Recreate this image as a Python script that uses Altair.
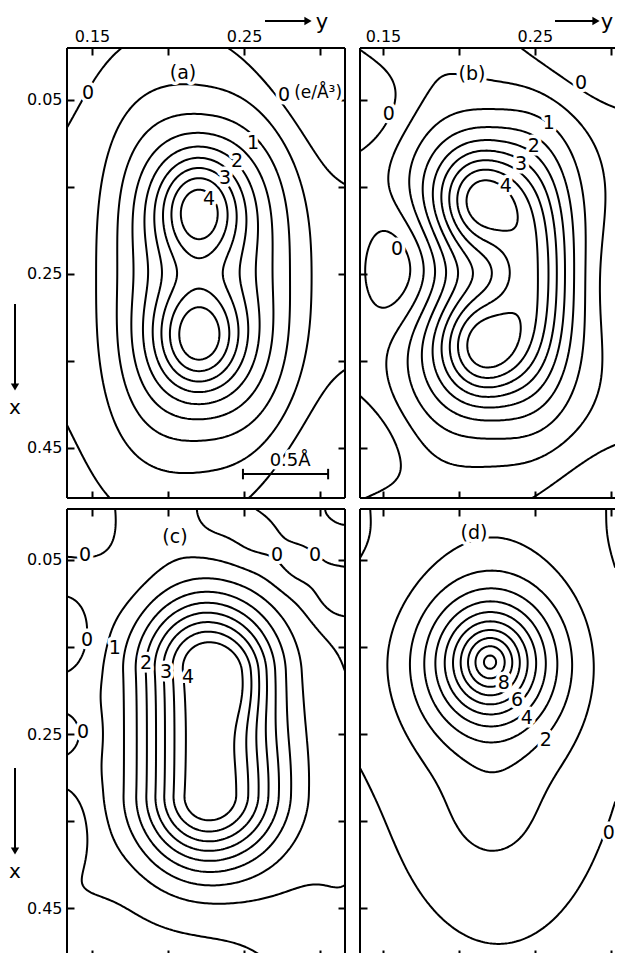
import numpy as np
import pandas as pd
import altair as alt

# ---------------- contour levels (e/A^3) ----------------
LEVELS_ABC = [0.0, 0.5, 1.0, 1.5, 2.0, 2.5, 3.0, 3.5, 4.0]
LEVELS_D = [0.0, 1.0, 2.0, 3.0, 4.0, 5.0, 6.0, 7.0, 8.0, 9.0, 10.0]

# ---------------- axes (fractional coordinates) ----------------
Y_TICKS = [0.15, 0.20, 0.25, 0.30]
X_TICKS = [0.05, 0.15, 0.25, 0.35, 0.45]
Y_DOM_L = [0.1336, 0.3164]
Y_DOM_R = [0.1349, 0.3027]
X_DOM_T = [-0.0092, 0.5080]
X_DOM_B = [-0.0086, 0.5063]

# ---------------- density components read from the maps ----------------
# centre y, centre x, height, width y, width x, flat half-length y/x, shape q, profile p
A_CY = [0.2237, 0.2204, 0.2204, 0.3099, 0.3099, 0.1257, 0.3230]
A_CX = [0.2560, 0.1759, 0.3241, -0.0115, 0.5115, 0.2506, 0.2506]
A_AMP = [2.4, 2.4, 2.4, -0.9, -0.7, 0.25, 0.3]
A_SY = [0.0500, 0.0191, 0.0197, 0.0362, 0.0362, 0.0164, 0.0164]
A_SX = [0.1630, 0.0437, 0.0437, 0.0805, 0.0805, 0.1264, 0.1264]
A_HY = [0] * 7
A_HX = [0] * 7
A_Q = [3, 2, 2, 2, 2, 2, 2]
A_P = [2.8, 2, 2, 2, 2, 2, 2]
A_BASE = -0.2

B_CY = [0.2211, 0.2151, 0.2164, 0.2480, 0.1638, 0.1276, 0.1309, 0.1309, 0.3217, 0.3316,
        0.3086, 0.3118, 0.1638, 0.1507]
B_CX = [0.2506, 0.1644, 0.3356, 0.2494, 0.2448, 0.2414, 0.0517, 0.4540, 0.2506, 0.2644,
        -0.0172, 0.5172, -0.0230, 0.5230]
B_AMP = [2.4, 2.4, 2.4, 1.5, -1.3, 0.8, -0.6, -0.6, 0.35, -0.9, -0.8, -0.6, 0.45, 0.4]
B_SY = [0.0526, 0.0197, 0.0197, 0.0158, 0.0263, 0.0145, 0.0230, 0.0230, 0.0230, 0.0230,
        0.0395, 0.0395, 0.0329, 0.0263]
B_SX = [0.1609, 0.0414, 0.0414, 0.0805, 0.0483, 0.0690, 0.0345, 0.0345, 0.2529, 0.0575,
        0.0460, 0.0460, 0.0345, 0.0230]
B_HY = [0] * 14
B_HX = [0] * 14
B_Q = [3] + [2] * 13
B_P = [2.8] + [2] * 13
B_BASE = -0.2

C_CY = [0.2243, 0.2474, 0.2572, 0.1289, 0.1303, 0.1303, 0.1303, 0.1342, 0.1342,
        0.1947, 0.3164, 0.2309, 0.2592, 0.2868, 0.3151, 0.3230, 0.2243, 0.2276, 0.2803]
C_CX = [0.2489, 0.1937, 0.3086, 0.2511, 0.1385, 0.2489, 0.3603, -0.0017, 0.5098,
        -0.0132, -0.0132, -0.0075, 0.0213, 0.0534, 0.0879, 0.3316, 0.1017, 0.4121, 0.2626]
C_AMP = [4.5, 0.6, 0.4, 0.6, -0.9, -0.7, -0.9, -0.8, -1.0,
         0.5, 0.48, -0.45, -0.45, -0.5, -0.7, 0.6, 0.5, 0.4, 0.5]
C_SY = [0.0316, 0.0145, 0.0197, 0.0230, 0.0132, 0.0118, 0.0132, 0.0197, 0.0197,
        0.0263, 0.0592, 0.0132, 0.0132, 0.0132, 0.0132, 0.0230, 0.0329, 0.0395, 0.0263]
C_SX = [0.0552, 0.0345, 0.0460, 0.3678, 0.0345, 0.0230, 0.0402, 0.0345, 0.0460,
        0.0460, 0.0460, 0.0230, 0.0230, 0.0230, 0.0230, 0.2299, 0.0460, 0.0460, 0.1724]
C_HY = [0] * 19
C_HX = [0.0713] + [0] * 18
C_Q = [2] * 19
C_P = [2] * 19
C_BASE = -0.2

D_CY = [0.2204, 0.2263, 0.2211, 0.2099, 0.1243]
D_CX = [0.1672, 0.2282, 0.3454, -0.0477, 0.1477]
D_AMP = [9.7, 1.5, 0.7, 0.5, 0.35]
D_SY = [0.0217, 0.0625, 0.0230, 0.0855, 0.0197]
D_SX = [0.0414, 0.2080, 0.0460, 0.0517, 0.0920]
D_HY = [0] * 5
D_HX = [0] * 5
D_Q = [2] * 5
D_P = [1.4, 2, 2, 2, 2]
D_BASE = -0.68

# ---------------- labels ----------------
A_LBL = ["0", "0", "(e/Å³)", "1", "2", "3", "4", "(a)", "0.5Å"]
A_LY = [0.1474, 0.2763, 0.2987, 0.2559, 0.2454, 0.2375, 0.2270, 0.2099, 0.2803]
A_LX = [0.0425, 0.0448, 0.0425, 0.1000, 0.1207, 0.1402, 0.1644, 0.0195, 0.4655]
A_FS = [19, 19, 17, 19, 19, 19, 19, 19, 18]

B_LBL = ["0", "0", "1", "2", "3", "4", "0", "(b)"]
B_LY = [0.1539, 0.2803, 0.2592, 0.2493, 0.2408, 0.2309, 0.1592, 0.2086]
B_LX = [0.0667, 0.0310, 0.0770, 0.1034, 0.1241, 0.1494, 0.2218, 0.0207]
B_FS = [19] * 8

C_LBL = ["(c)", "0", "0", "0", "0", "1", "2", "3", "4", "0"]
C_LY = [0.2046, 0.1454, 0.2717, 0.2967, 0.1467, 0.1651, 0.1855, 0.1987, 0.2132, 0.1441]
C_LX = [0.0236, 0.0443, 0.0443, 0.0443, 0.1420, 0.1511, 0.1684, 0.1787, 0.1845, 0.2477]
C_FS = [19] * 10

D_LBL = ["(d)", "8", "6", "4", "2", "0"]
D_LY = [0.2099, 0.2296, 0.2382, 0.2447, 0.2572, 0.2987]
D_LX = [0.0190, 0.1914, 0.2109, 0.2316, 0.2569, 0.3638]
D_FS = [19] * 6

SCALE_BAR_Y = [0.2493, 0.3053]
SCALE_BAR_X = [0.4805, 0.4805]


# ---------------- field + marching squares ----------------
def field(Yg, Xg, comp, base):
    f = np.full(Yg.shape, float(base))
    for cy, cx, amp, sy, sx, hy, hx, q, p in zip(*comp):
        dy = np.maximum(np.abs(Yg - cy) - hy, 0.0) / sy
        dx = np.maximum(np.abs(Xg - cx) - hx, 0.0) / sx
        r = (dy ** q + dx ** q) ** (1.0 / q)
        f = f + amp * np.exp(-0.5 * r ** p)
    return f


SEG = {1: [(3, 0)], 2: [(0, 1)], 3: [(3, 1)], 4: [(1, 2)], 6: [(0, 2)], 7: [(3, 2)],
       8: [(2, 3)], 9: [(0, 2)], 11: [(1, 2)], 12: [(1, 3)], 13: [(0, 1)], 14: [(3, 0)]}


def trace(Z, U, V, lev):
    nv, nu = Z.shape
    Bm = Z >= lev
    case = (Bm[:-1, :-1].astype(int) + 2 * Bm[:-1, 1:] + 4 * Bm[1:, 1:] + 8 * Bm[1:, :-1])
    cells = np.argwhere((case > 0) & (case < 15)).tolist()
    segs = []
    for i, j in cells:
        c = int(case[i, j])
        e = ((i * nu + j) * 2, (i * nu + j + 1) * 2 + 1, ((i + 1) * nu + j) * 2, (i * nu + j) * 2 + 1)
        if c in (5, 10):
            center = (Z[i, j] + Z[i, j + 1] + Z[i + 1, j + 1] + Z[i + 1, j]) / 4.0
            if (c == 5) == bool(center >= lev):
                pairs = [(0, 1), (2, 3)]
            else:
                pairs = [(3, 0), (1, 2)]
        else:
            pairs = SEG[c]
        for a, b in pairs:
            segs.append((e[a], e[b]))
    adj = {}
    for s, (a, b) in enumerate(segs):
        adj.setdefault(a, []).append(s)
        adj.setdefault(b, []).append(s)
    used = [False] * len(segs)

    def walk(cur):
        out = []
        while True:
            nxt = None
            for t in adj[cur]:
                if not used[t]:
                    nxt = t
                    break
            if nxt is None:
                return out
            used[nxt] = True
            a, b = segs[nxt]
            cur = b if a == cur else a
            out.append(cur)

    def pt(k):
        m, kind = divmod(k, 2)
        i, j = divmod(m, nu)
        if kind == 0:
            t = (lev - Z[i, j]) / (Z[i, j + 1] - Z[i, j])
            return U[j] + t * (U[j + 1] - U[j]), V[i]
        t = (lev - Z[i, j]) / (Z[i + 1, j] - Z[i, j])
        return U[j], V[i] + t * (V[i + 1] - V[i])

    paths = []
    for s in range(len(segs)):
        if used[s]:
            continue
        used[s] = True
        a, b = segs[s]
        fwd = walk(b)
        bwd = walk(a)
        keys = bwd[::-1] + [a, b] + fwd
        paths.append([pt(k) for k in keys])
    return paths


def contour_table(comp, base, levels, ydom, xdom, nu=140, nv=226):
    U = np.linspace(ydom[0], ydom[1], nu)
    V = np.linspace(xdom[0], xdom[1], nv)
    Yg, Xg = np.meshgrid(U, V)
    Z = field(Yg, Xg, comp, base)
    rows = []
    pid = 0
    for lev in levels:
        for path in trace(Z, U, V, lev):
            for k, (u, v) in enumerate(path):
                rows.append((pid, k, round(float(u), 5), round(float(v), 5), lev))
            pid += 1
    return pd.DataFrame(rows, columns=["path", "k", "Y", "X", "level"])


TOP_EXPR = "abs(datum.value-0.15)<1e-6 || abs(datum.value-0.25)<1e-6 ? format(datum.value,'.2f') : ''"
LEFT_EXPR = "abs(datum.value-0.15)<1e-6 || abs(datum.value-0.35)<1e-6 ? '' : format(datum.value,'.2f')"

ONE = pd.DataFrame({"d": [0]})


def rule(**kw):
    return alt.Chart(ONE).mark_rule(color="black", strokeWidth=2).encode(**kw)


def borders(w, h, right, bottom):
    out = [rule(x=alt.value(0), x2=alt.value(w), y=alt.value(0)),
           rule(x=alt.value(0), y=alt.value(0), y2=alt.value(h))]
    if right:
        out.append(rule(x=alt.value(w), y=alt.value(0), y2=alt.value(h)))
    if bottom:
        out.append(rule(x=alt.value(0), x2=alt.value(w), y=alt.value(h)))
    return out


def x_arrow(y1, y2):
    return [
        rule(x=alt.value(-52), y=alt.value(y1), y2=alt.value(y2)),
        alt.Chart(ONE).mark_point(shape="triangle-down", filled=True, color="black", size=70, opacity=1).encode(
            x=alt.value(-52), y=alt.value(y2 + 3)),
        alt.Chart(ONE).mark_text(text="x", fontSize=20, color="black", baseline="middle").encode(
            x=alt.value(-52), y=alt.value(y2 + 24)),
    ]


def y_arrow(x1, x2, yy, tx):
    return [
        rule(x=alt.value(x1), x2=alt.value(x2), y=alt.value(yy)),
        alt.Chart(ONE).mark_point(shape="triangle-right", filled=True, color="black", size=70, opacity=1).encode(
            x=alt.value(x2 + 3), y=alt.value(yy)),
        alt.Chart(ONE).mark_text(text="y", fontSize=21, color="black", baseline="alphabetic").encode(
            x=alt.value(x2 + tx), y=alt.value(yy + 8)),
    ]


def make_panel(df, lbl, ydom, xdom, w, h, top_labels, left_labels, right_ticks, extras):
    sx = alt.Scale(domain=ydom, nice=False, zero=False)
    sy = alt.Scale(domain=xdom, nice=False, zero=False, reverse=True)
    ax_top = alt.Axis(orient="top", values=Y_TICKS, labels=top_labels, labelExpr=TOP_EXPR,
                      tickSize=7, offset=-7, labelPadding=4, title=None)
    ax_left = alt.Axis(orient="left", values=X_TICKS, labels=left_labels, labelExpr=LEFT_EXPR,
                       tickSize=7, offset=-7, labelPadding=5, title=None)
    ax_bottom = alt.Axis(orient="bottom", values=Y_TICKS, labels=False, tickSize=7, offset=-7, title=None)
    ax_right = (alt.Axis(orient="right", values=X_TICKS, labels=False, tickSize=7, offset=-7, title=None)
                if right_ticks else None)
    lines = alt.Chart(df).mark_line(color="black", strokeWidth=2, clip=True,
                                    strokeJoin="round", strokeCap="round").encode(
        x=alt.X("Y:Q", scale=sx, axis=ax_top),
        y=alt.Y("X:Q", scale=sy, axis=ax_left),
        detail="path:N", order="k:Q")
    halo = alt.Chart(lbl).mark_text(color="white", stroke="white", strokeWidth=7,
                                    strokeJoin="round", baseline="middle").encode(
        x=alt.X("Y:Q", scale=sx, axis=ax_bottom),
        y=alt.Y("X:Q", scale=sy, axis=ax_right),
        text="t:N", size=alt.Size("fs:Q", scale=None, legend=None))
    txt = alt.Chart(lbl).mark_text(color="black", baseline="middle").encode(
        x=alt.X("Y:Q", scale=sx, axis=None),
        y=alt.Y("X:Q", scale=sy, axis=None),
        text="t:N", size=alt.Size("fs:Q", scale=None, legend=None))
    return alt.layer(lines, halo, txt, *extras).resolve_axis(
        x="independent", y="independent").properties(
        width=w, height=h, view=alt.ViewBackground(stroke="transparent"))


def lbl_df(t, ys, xs, fs):
    return pd.DataFrame({"t": t, "Y": ys, "X": xs, "fs": fs})


dfa = contour_table((A_CY, A_CX, A_AMP, A_SY, A_SX, A_HY, A_HX, A_Q, A_P), A_BASE, LEVELS_ABC, Y_DOM_L, X_DOM_T)
dfb = contour_table((B_CY, B_CX, B_AMP, B_SY, B_SX, B_HY, B_HX, B_Q, B_P), B_BASE, LEVELS_ABC, Y_DOM_R, X_DOM_T)
dfc = contour_table((C_CY, C_CX, C_AMP, C_SY, C_SX, C_HY, C_HX, C_Q, C_P), C_BASE, LEVELS_ABC, Y_DOM_L, X_DOM_B)
dfd = contour_table((D_CY, D_CX, D_AMP, D_SY, D_SX, D_HY, D_HX, D_Q, D_P), D_BASE, LEVELS_D, Y_DOM_R, X_DOM_B)

sb = pd.DataFrame({"Y": SCALE_BAR_Y, "X": SCALE_BAR_X})
scale_bar = [
    alt.Chart(sb).mark_line(color="black", strokeWidth=2).encode(
        x=alt.X("Y:Q", axis=None), y=alt.Y("X:Q", axis=None)),
    alt.Chart(sb).mark_point(shape="stroke", angle=90, size=110, color="black", strokeWidth=2, opacity=1).encode(
        x=alt.X("Y:Q", axis=None), y=alt.Y("X:Q", axis=None)),
]

WL, WR, HT, HB = 278, 255, 450, 448

pa = make_panel(dfa, lbl_df(A_LBL, A_LY, A_LX, A_FS), Y_DOM_L, X_DOM_T, WL, HT, True, True, True,
                borders(WL, HT, True, True) + x_arrow(256, 336) + y_arrow(198, 238, -27, 17) + scale_bar)
pb = make_panel(dfb, lbl_df(B_LBL, B_LY, B_LX, B_FS), Y_DOM_R, X_DOM_T, WR, HT, True, False, False,
                borders(WR, HT, False, True) + y_arrow(195, 233, -27, 14))
pc = make_panel(dfc, lbl_df(C_LBL, C_LY, C_LX, C_FS), Y_DOM_L, X_DOM_B, WL, HB, False, True, True,
                borders(WL, HB, True, False) + x_arrow(259, 339))
pd_ = make_panel(dfd, lbl_df(D_LBL, D_LY, D_LX, D_FS), Y_DOM_R, X_DOM_B, WR, HB, False, False, False,
                 borders(WR, HB, False, False))

chart = alt.vconcat(
    alt.hconcat(pa, pb, spacing=11),
    alt.hconcat(pc, pd_, spacing=11),
    spacing=7,
).properties(
    padding={"left": 0, "top": 3, "right": 0, "bottom": 0}
).configure_view(
    stroke="transparent"
).configure_axis(
    tickColor="black", tickWidth=2, labelColor="black", labelFont="DejaVu Sans",
    labelFontSize=16, domain=False, grid=False
).configure_text(font="DejaVu Sans")

chart.save("out.html", embed_options={"renderer": "svg", "actions": False})
